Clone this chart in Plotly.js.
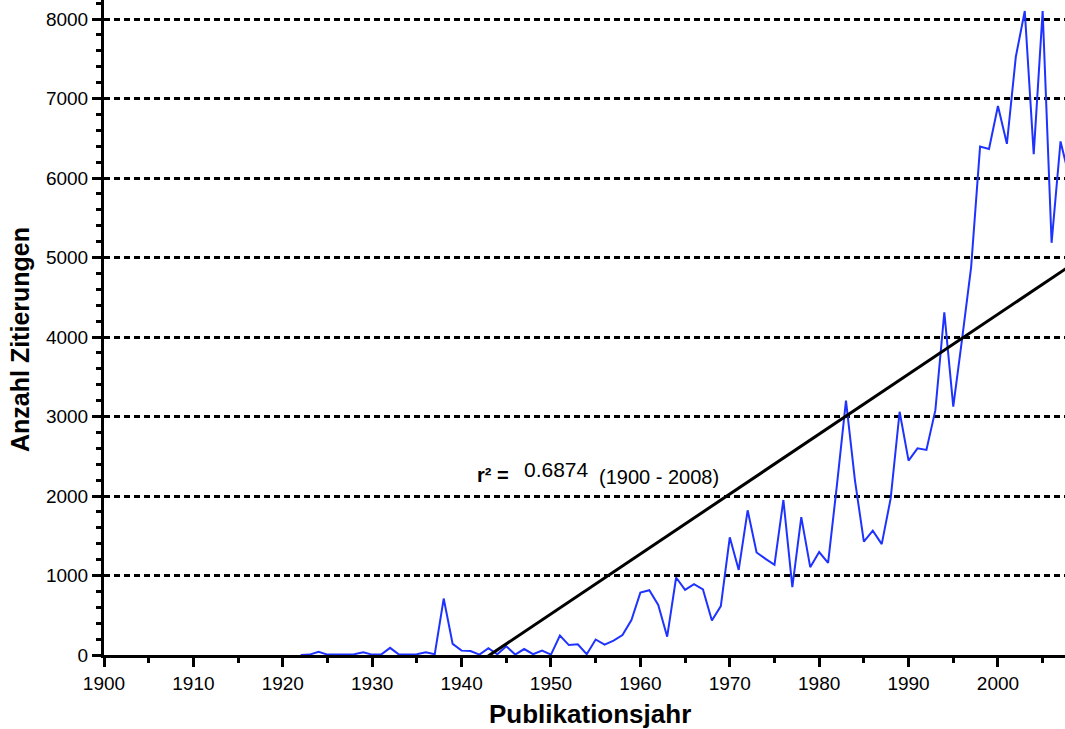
<!DOCTYPE html>
<html>
<head>
<meta charset="utf-8">
<script src="https://cdn.plot.ly/plotly-3.0.1.min.js"></script>
<style>
  html, body { margin: 0; padding: 0; background: #fff; }
  #chart { width: 1065px; height: 729px; }
</style>
</head>
<body>
<div id="chart"></div>
<script>
// Citations per publication year
const years = [
  1922, 1923, 1924, 1925, 1926, 1927, 1928, 1929, 1930, 1931,
  1932, 1933, 1934, 1935, 1936, 1937, 1938, 1939, 1940, 1941,
  1942, 1943, 1944, 1945, 1946, 1947, 1948, 1949, 1950, 1951,
  1952, 1953, 1954, 1955, 1956, 1957, 1958, 1959, 1960, 1961,
  1962, 1963, 1964, 1965, 1966, 1967, 1968, 1969, 1970, 1971,
  1972, 1973, 1974, 1975, 1976, 1977, 1978, 1979, 1980, 1981,
  1982, 1983, 1984, 1985, 1986, 1987, 1988, 1989, 1990, 1991,
  1992, 1993, 1994, 1995, 1996, 1997, 1998, 1999, 2000, 2001,
  2002, 2003, 2004, 2005, 2006, 2007, 2008
];
const citations = [
  0, 5, 40, 5, 5, 5, 10, 35, 5, 5,
  90, 5, 5, 10, 35, 10, 710, 140, 55, 50,
  5, 85, 10, 110, 5, 75, 10, 55, 5, 245,
  125, 135, 10, 195, 130, 180, 250, 440, 785, 815,
  630, 230, 975, 820, 890, 825, 435, 615, 1480, 1070,
  1820, 1290, 1210, 1135, 1950, 855, 1735, 1105, 1295, 1160,
  2150, 3200, 2200, 1425, 1565, 1395, 1970, 3060, 2445, 2600,
  2580, 3080, 4310, 3125, 3985, 4880, 6395, 6365, 6905, 6430,
  7525, 8100, 6300, 8100, 5185, 6460, 6000
];

// Linear fit over 1900 - 2008 (end points of the regression line)
const fitYears = [1900, 2008];
const fitValues = [-3253, 4890];

// Fit statistics label
const r2Label = 'r² =';
const r2Value = '0.6874';
const r2Span = '(1900 - 2008)';

// Axis titles
const xTitle = 'Publikationsjahr';
const yTitle = 'Anzahl Zitierungen';

const font = 'Arial, "Liberation Sans", Helvetica, sans-serif';

const traces = [
  {
    x: years, y: citations, type: 'scatter', mode: 'lines',
    line: { color: '#1f33ff', width: 2 },
    hoverinfo: 'x+y'
  },
  {
    x: fitYears, y: fitValues, type: 'scatter', mode: 'lines',
    line: { color: '#000000', width: 3 },
    hoverinfo: 'skip'
  }
];

const layout = {
  width: 1065, height: 729,
  margin: { l: 104, r: 0, t: 0, b: 74, pad: 0 },
  paper_bgcolor: '#ffffff', plot_bgcolor: '#ffffff',
  showlegend: false,
  font: { family: font, color: '#000', size: 19 },
  xaxis: {
    range: [1900, 2007.5],
    tick0: 1900, dtick: 10,
    ticks: 'outside', ticklen: 9, tickwidth: 3, tickcolor: '#000',
    minor: { dtick: 5, tick0: 1900, ticks: 'outside', ticklen: 5, tickwidth: 3, tickcolor: '#000', showgrid: false },
    showline: true, linecolor: '#000', linewidth: 3,
    showgrid: false, zeroline: false,
    tickfont: { family: font, size: 19, color: '#000' },
    layer: 'below traces'
  },
  yaxis: {
    range: [0, 8239],
    tick0: 0, dtick: 1000,
    ticks: 'outside', ticklen: 9, tickwidth: 3, tickcolor: '#000',
    minor: { dtick: 200, tick0: 0, ticks: 'outside', ticklen: 5, tickwidth: 3, tickcolor: '#000', showgrid: false },
    showline: true, linecolor: '#000', linewidth: 3,
    showgrid: true, gridcolor: '#000', gridwidth: 3, griddash: '6px,4px',
    zeroline: false,
    tickfont: { family: font, size: 19, color: '#000' },
    layer: 'below traces'
  },
  annotations: [
    // axis titles
    { x: 590, xref: 'x domain', y: 0, yref: 'paper', showarrow: false,
      xanchor: 'center', yanchor: 'middle', yshift: -59,
      text: '<b>' + xTitle + '</b>', font: { family: font, size: 26, color: '#000' } },
    { x: 0, xref: 'paper', y: 0, yref: 'paper', showarrow: false,
      xanchor: 'center', yanchor: 'middle', textangle: -90,
      text: '<b>' + yTitle + '</b>', font: { family: font, size: 25, color: '#000' } },
    // fit statistics
    { x: 1941.5, y: 2264, xref: 'x', yref: 'y', xanchor: 'left', yanchor: 'middle',
      text: '<b>' + r2Label + '</b>', showarrow: false, font: { family: font, size: 20, color: '#000' } },
    { x: 1946.8, y: 2330, xref: 'x', yref: 'y', xanchor: 'left', yanchor: 'middle',
      text: r2Value, showarrow: false, font: { family: font, size: 21, color: '#000' } },
    { x: 1955.2, y: 2240, xref: 'x', yref: 'y', xanchor: 'left', yanchor: 'middle',
      text: r2Span, showarrow: false, font: { family: font, size: 20, color: '#000' } }
  ]
};

// Place the axis titles in pixel terms relative to the plot area
const plotW = layout.width - layout.margin.l - layout.margin.r;
const plotH = layout.height - layout.margin.t - layout.margin.b;
layout.annotations[0].xref = 'paper';
layout.annotations[0].x = (590 - layout.margin.l) / plotW;
layout.annotations[1].x = (20 - layout.margin.l) / plotW;
layout.annotations[1].y = (layout.height - layout.margin.b - 340) / plotH;

Plotly.newPlot('chart', traces, layout, { staticPlot: true, displayModeBar: false });
</script>
</body>
</html>
